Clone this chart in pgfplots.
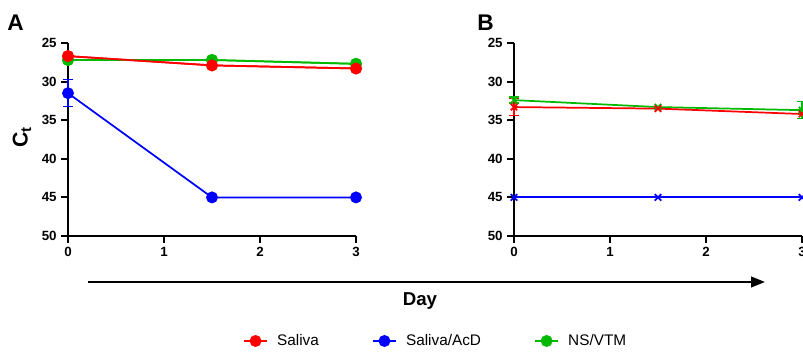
\documentclass[border=0pt]{standalone}
\usepackage{fontspec}
\setmainfont{Liberation Sans}
\usepackage{pgfplots}
\pgfplotsset{compat=1.18}
\usetikzlibrary{arrows.meta}
\definecolor{cred}{RGB}{255,0,0}
\definecolor{cblue}{RGB}{0,0,255}
\definecolor{cgreen}{RGB}{0,185,0}
\pgfplotsset{
  panel/.style={
    scale only axis, width=216pt, height=144.75pt,
    xmin=0, xmax=3, ymin=25, ymax=50, y dir=reverse,
    axis lines=left, axis line style={-, line width=1.6pt, black},
    xtick={0,1,2,3}, ytick={25,30,35,40,45,50},
    tick align=outside, major tick length=5pt,
    tick style={line width=1.6pt, black},
    /pgf/number format/assume math mode=true,
    tick label style={font=\fontsize{10}{12}\selectfont\bfseries},
    clip=false,
    error bars/error mark options={rotate=90, mark size=3.6pt, line width=1.2pt},
  }
}
\begin{document}
\begin{tikzpicture}
\path[use as bounding box] (0pt,0pt) rectangle (602.25pt,264pt);
\begin{axis}[panel, at={(51pt,87pt)}, anchor=south west,
  ylabel={\textbf{C}\textsubscript{\textbf{t}}},
  ylabel style={font=\fontsize{16}{18}\selectfont, at={(axis description cs:-0.160,0.513)}, anchor=center},
  legend columns=3,
  legend style={draw=none, at={(1.278,-0.544)}, anchor=center,
    font=\fontsize{11.5}{13}\selectfont,
    /tikz/every odd column/.append style={column sep=5pt},
    /tikz/every even column/.append style={column sep=38pt}},
]
\addplot[cred, line width=1.3pt, mark=*, mark size=3.8pt] coordinates {(0,26.7) (1.5,27.9) (3,28.3)};
\addlegendentry{Saliva}
\addplot[cblue, line width=1.3pt, mark=*, mark size=3.8pt] coordinates {(0,31.5) (1.5,45.0) (3,45.0)};
\addlegendentry{Saliva/AcD}
\addplot[cgreen, line width=1.3pt, mark=*, mark size=3.8pt] coordinates {(0,27.2) (1.5,27.2) (3,27.7)};
\addlegendentry{NS/VTM}
\addplot[cblue, draw=none, forget plot, error bars/.cd, y dir=both, y explicit,
  error bar style={line width=1.2pt}] coordinates {(0,31.5) +- (0,1.75)};
\addplot[cgreen, line width=1.3pt, mark=*, mark size=3.8pt, forget plot] coordinates {(0,27.2) (1.5,27.2) (3,27.7)};
\addplot[cred, line width=1.3pt, mark=*, mark size=3.8pt, forget plot] coordinates {(0,26.7) (1.5,27.9) (3,28.3)};
\end{axis}
\begin{axis}[panel, at={(385.5pt,87pt)}, anchor=south west]
\addplot[cgreen, line width=1.3pt, mark=x, mark size=3.4pt, mark options={line width=1.3pt}] coordinates {(0,32.4) (1.5,33.3) (3,33.7)};
\addplot[cgreen, draw=none, error bars/.cd, y dir=both, y explicit,
  error bar style={line width=1.2pt}] coordinates {(0,32.4) +- (0,0.4) (3,33.7) +- (0,1.1)};
\addplot[cred, line width=1.3pt, mark=x, mark size=3.4pt, mark options={line width=1.3pt}] coordinates {(0,33.3) (1.5,33.5) (3,34.2)};
\addplot[cred, draw=none, error bars/.cd, y dir=both, y explicit,
  error bar style={line width=1.2pt}] coordinates {(0,33.3) +- (0,1.1)};
\addplot[cblue, line width=1.4pt, mark=x, mark size=3.4pt, mark options={line width=1.3pt}] coordinates {(0,45.0) (1.5,45.0) (3,45.0)};
\end{axis}
\node[anchor=north west, inner sep=0pt, font=\fontsize{17}{20}\selectfont\bfseries] at (5.25pt,253pt) {A};
\node[anchor=north west, inner sep=0pt, font=\fontsize{17}{20}\selectfont\bfseries] at (357.75pt,253pt) {B};
\draw[line width=1.5pt, -{Triangle[length=10.5pt,width=8pt]}] (66pt,52.5pt) -- (573.75pt,52.5pt);
\node[font=\fontsize{14}{16}\selectfont\bfseries] at (315pt,38pt) {Day};
\end{tikzpicture}
\end{document}
